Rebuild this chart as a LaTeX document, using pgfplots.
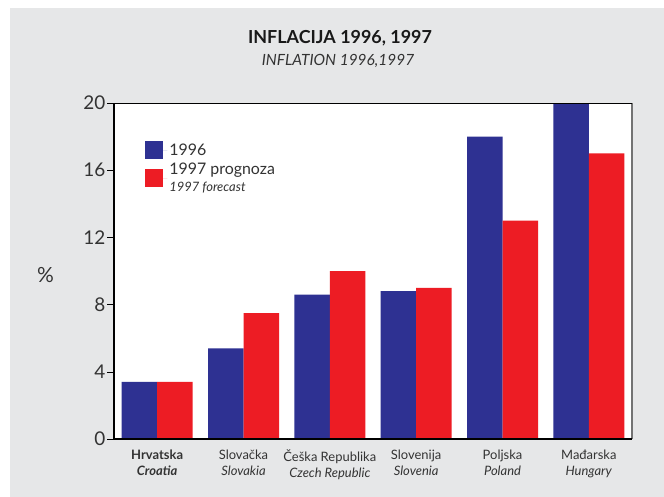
\documentclass[border=0pt]{standalone}
\usepackage{pgfplots}
\pgfplotsset{compat=1.18}
\usepackage{fontspec}
\setmainfont{Lato}
\definecolor{barblue}{HTML}{2E3192}
\definecolor{barred}{HTML}{ED1C24}
\definecolor{bggray}{HTML}{E6E7E8}
\definecolor{txt}{HTML}{333333}
\begin{document}
\begin{tikzpicture}
\path[use as bounding box] (0,0) rectangle (664bp,-497bp);
\fill[bggray] (10bp,-8bp) rectangle (664bp,-497bp);
\node[anchor=base, font=\fontsize{18}{21}\selectfont\bfseries, text=black!90] at (340bp,-43.3bp) {INFLACIJA 1996, 1997};
\node[anchor=base, font=\fontsize{15.5}{18}\selectfont\itshape, text=txt] at (338bp,-65bp) {INFLATION 1996,1997};
\node[anchor=base, font=\fontsize{21}{24}\selectfont, text=txt] at (45.5bp,-282bp) {\%};
\begin{axis}[
  at={(114bp,-439bp)}, anchor=south west,
  scale only axis, width=518bp, height=336bp,
  ymin=0, ymax=20, xmin=-0.5, xmax=5.5,
  ybar=0pt, bar width=35.5bp,
  clip=false,
  axis background/.style={fill=white},
  axis line style={draw=none},
  ytick={0,4,...,20}, ytick pos=left,
  xtick={0,...,5}, xtick style={draw=none},
  xticklabels={{\textbf{Hrvatska}\\\textbf{\textit{Croatia}}},{Slovačka\\\textit{Slovakia}},{Češka Republika\\\textit{Czech Republic}},{Slovenija\\\textit{Slovenia}},{Poljska\\\textit{Poland}},{Mađarska\\\textit{Hungary}}},
  tick align=outside, major tick length=7bp,
  ytick style={line width=0.6bp, black},
  /pgf/number format/assume math mode=true,
  yticklabel style={font=\fontsize{19}{22}\selectfont, text=txt, inner sep=1.5bp},
  xticklabel style={font=\fontsize{13}{16}\selectfont, text=txt, align=center},
  legend image code/.code={\fill[#1] (0bp,-9bp) rectangle (18bp,9bp); \path (0bp,0bp) -- (22bp,0bp);},
  legend style={at={(0.06,0.887)}, anchor=north west, draw=none, fill=none,
    font=\fontsize{16}{17}\selectfont, text=txt, row sep=2bp, inner sep=0pt,
    cells={anchor=west, align=left}},
]
\addplot[fill=barblue, draw=none] coordinates {(0,3.4) (1,5.4) (2,8.6) (3,8.8) (4,18) (5,20)};
\addlegendentry{1996}
\addplot[fill=barred, draw=none] coordinates {(0,3.4) (1,7.5) (2,10) (3,9) (4,13) (5,17)};
\addlegendentry{1997 prognoza\\{\fontsize{13}{14}\selectfont\itshape 1997 forecast}}
\draw[black!55, line width=1.2bp] (rel axis cs:1,0) -- (rel axis cs:1,1);
\draw[black, line width=0.8bp] (rel axis cs:0,1) -- (rel axis cs:1,1);
\draw[black, line width=2bp] (rel axis cs:0,1) -- (rel axis cs:0,0) -- (rel axis cs:1,0);
\end{axis}
\end{tikzpicture}
\end{document}
